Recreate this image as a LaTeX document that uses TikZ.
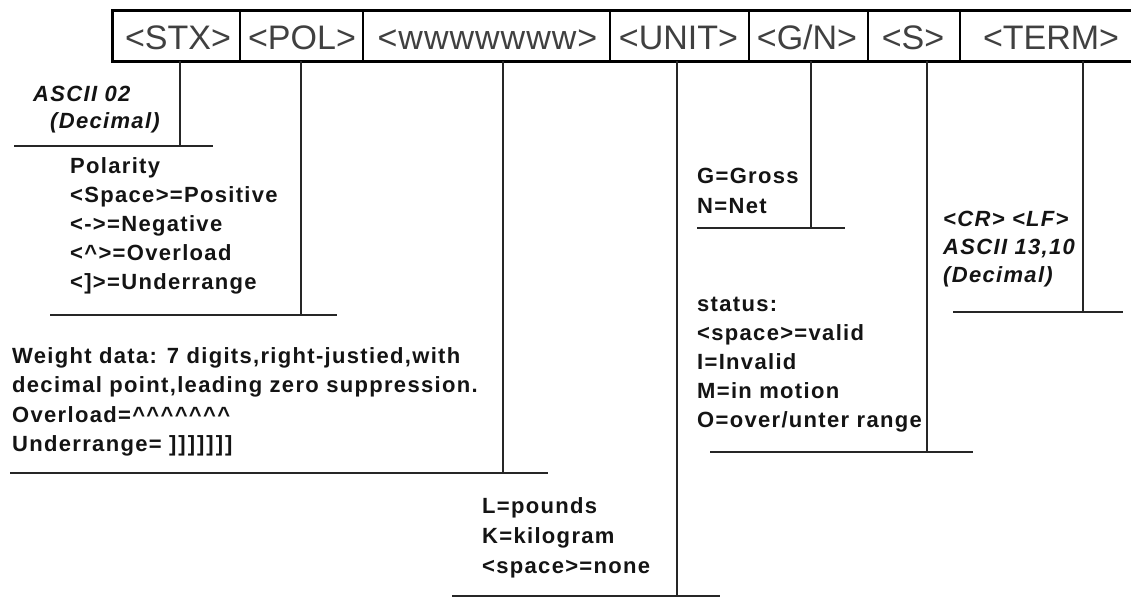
\documentclass[tikz,border=0pt]{standalone}
\usepackage{fontspec}
\setmainfont{Liberation Sans}
\newfontfamily\labfont[LetterSpace=6.0]{Liberation Sans}
\newfontfamily\barfont{Liberation Sans}
\newfontfamily\barwidefont[LetterSpace=3.0]{Liberation Sans}
\newcommand\fstrut{\rule{0pt}{18pt}}
\begin{document}
\begin{tikzpicture}[x=1pt,y=-1pt,
  lbl/.style={font=\labfont\bfseries\fontsize{22}{29.5}\selectfont, align=left, anchor=north west, inner sep=0pt, text=black!92},
  ital/.style={lbl, font=\labfont\bfseries\itshape\fontsize{22}{28}\selectfont},
  cell/.style={draw=black, line width=2.5pt},
  outer/.style={draw=black, line width=3pt},
  celltxt/.style={font=\barfont\fontsize{34}{40}\selectfont, text=black!75, anchor=base, inner sep=0pt},
  drop/.style={line width=1.4pt, draw=black!85}]
\useasboundingbox (0,0) rectangle (1131,597);
\fill[white] (0,0) rectangle (1131,597);

% bar cells
\draw[cell] (112.7,10) rectangle (240,61);
\draw[cell] (240,10) rectangle (363,61);
\draw[cell] (363,10) rectangle (610,61);
\draw[cell] (610,10) rectangle (749,61);
\draw[cell] (749,10) rectangle (868,61);
\draw[cell] (868,10) rectangle (960,61);
\draw[cell] (960,10) rectangle (1150,61);
\draw[outer] (112.7,10) rectangle (1150,61);

\node[celltxt] (tstx)  at (178,49.5) {<STX>};
\node[celltxt] (tpol)  at (302,49.5) {<POL>};
\node[celltxt, font=\barwidefont\fontsize{34}{40}\selectfont] (twww) at (487.5,49.5) {<wwwwwww>};
\node[celltxt] (tunit) at (678.5,49.5) {<UNIT>};
\node[celltxt] (tgn)   at (807,49.5) {<G/N>};
\node[celltxt] (ts)    at (913,49.5) {<S>};
\node[celltxt] (tterm) at (1051,49.5) {<TERM>};

% drop line ends
\coordinate (stxtop) at (180,61);   \coordinate (stxbot) at (180,146);
\coordinate (poltop) at (301,61);   \coordinate (polbot) at (301,315);
\coordinate (wwwtop) at (503,61);   \coordinate (wwwbot) at (503,473);
\coordinate (unittop) at (677,61);  \coordinate (unitbot) at (677,596);
\coordinate (gntop) at (811,61);    \coordinate (gnbot) at (811,228);
\coordinate (stop) at (927,61);     \coordinate (sbot) at (927,452);
\coordinate (termtop) at (1083,61); \coordinate (termbot) at (1083,312);

\coordinate (h1l) at (14,146);  \coordinate (h1r) at (213,146);
\coordinate (h2l) at (50,315);  \coordinate (h2r) at (337,315);
\coordinate (h3l) at (10,473);  \coordinate (h3r) at (548,473);
\coordinate (h4l) at (452,596); \coordinate (h4r) at (720,596);
\coordinate (h5l) at (697,228); \coordinate (h5r) at (845,228);
\coordinate (h6l) at (710,452); \coordinate (h6r) at (973,452);
\coordinate (h7l) at (953,312); \coordinate (h7r) at (1123,312);

\draw[drop] (stxtop) -- (stxbot);
\draw[drop] (poltop) -- (polbot);
\draw[drop] (wwwtop) -- (wwwbot);
\draw[drop] (unittop) -- (unitbot);
\draw[drop] (gntop) -- (gnbot);
\draw[drop] (stop) -- (sbot);
\draw[drop] (termtop) -- (termbot);

\draw[drop] (h1l) -- (h1r);
\draw[drop] (h2l) -- (h2r);
\draw[drop] (h3l) -- (h3r);
\draw[drop] (h4l) -- (h4r);
\draw[drop] (h5l) -- (h5r);
\draw[drop] (h6l) -- (h6r);
\draw[drop] (h7l) -- (h7r);

% labels
\node[ital, font=\labfont\bfseries\itshape\fontsize{22}{27}\selectfont] (ascii) at (33,83)
  {\fstrut ASCII 02\\\hspace*{17pt}(Decimal)};
\node[lbl, font=\labfont\bfseries\fontsize{22}{29}\selectfont] (polar) at (70,155)
  {\fstrut Polarity\\<Space>=Positive\\<->=Negative\\<\textasciicircum>=Overload\\<]>=Underrange};
\node[lbl] (weight) at (12,345)
  {\fstrut Weight data: 7 digits,right-justied,with\\decimal point,leading zero suppression.\\Overload=\textasciicircum\textasciicircum\textasciicircum\textasciicircum\textasciicircum\textasciicircum\textasciicircum\\Underrange= ]\kern2pt]\kern2pt]\kern2pt]\kern2pt]\kern2pt]\kern2pt]};
\node[lbl, font=\labfont\bfseries\fontsize{22}{30}\selectfont] (units) at (482,495)
  {\fstrut L=pounds\\K=kilogram\\<space>=none};
\node[lbl, font=\labfont\bfseries\fontsize{22}{30}\selectfont] (gross) at (697,165)
  {\fstrut G=Gross\\N=Net};
\node[lbl, font=\labfont\bfseries\fontsize{22}{29}\selectfont] (status) at (697,293)
  {\fstrut status:\\<space>=valid\\I=Invalid\\M=in motion\\O=over/unter range};
\node[ital] (crlf) at (943,208)
  {\fstrut <CR> <LF>\\ASCII 13,10\\(Decimal)};
\end{tikzpicture}
\end{document}
